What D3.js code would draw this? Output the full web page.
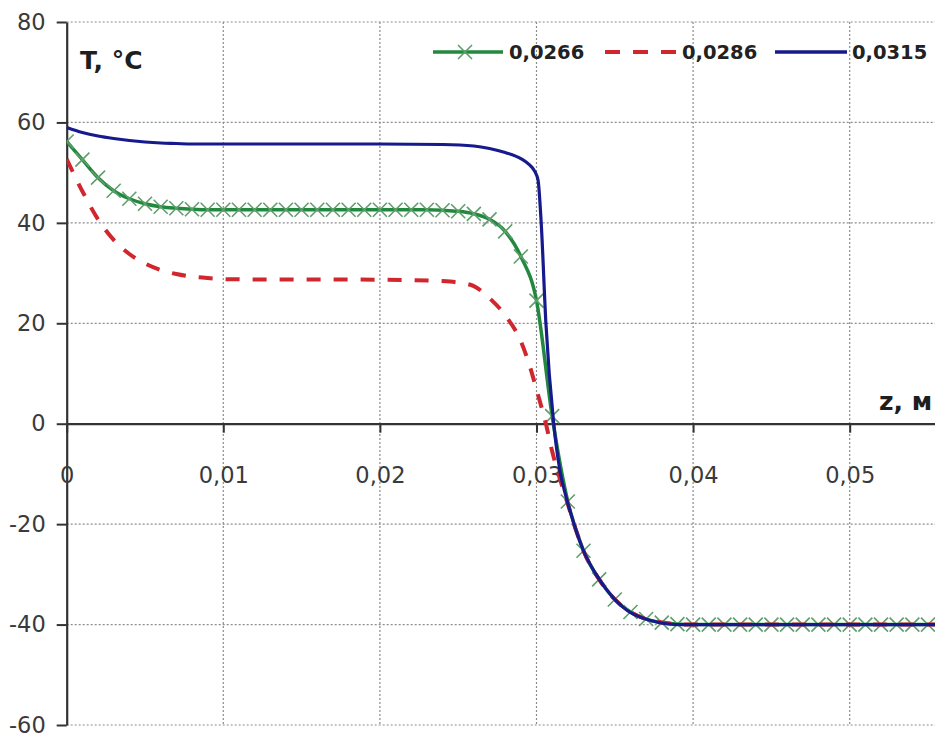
<!DOCTYPE html>
<html>
<head>
<meta charset="utf-8">
<script src="https://cdn.jsdelivr.net/npm/d3@7"></script>
<style>
  html, body { margin: 0; padding: 0; background: #fff; }
  svg { display: block; }
</style>
</head>
<body>
<script>
// ---------------- DATA ----------------
const seriesNames = ["0,0266", "0,0286", "0,0315"];

const greenZ = [0, 0.001, 0.002, 0.003, 0.004, 0.005, 0.006, 0.007, 0.008, 0.009,
  0.010, 0.011, 0.012, 0.013, 0.014, 0.015, 0.016, 0.017, 0.018, 0.019,
  0.020, 0.021, 0.022, 0.023, 0.024, 0.025, 0.026, 0.027, 0.028, 0.029,
  0.030, 0.031, 0.032, 0.033, 0.034, 0.035, 0.036, 0.037, 0.038, 0.039,
  0.040, 0.041, 0.042, 0.043, 0.044, 0.045, 0.046, 0.047, 0.048, 0.049,
  0.050, 0.051, 0.052, 0.053, 0.054, 0.055, 0.056, 0.057, 0.058, 0.059, 0.060];
const greenT = [56.2, 52.6, 49.0, 46.4, 44.8, 43.8, 43.2, 42.9, 42.7, 42.6,
  42.6, 42.6, 42.6, 42.6, 42.6, 42.6, 42.6, 42.6, 42.6, 42.6,
  42.6, 42.6, 42.6, 42.6, 42.5, 42.3, 41.8, 40.7, 38.3, 33.3,
  24.5, 1.5, -15.5, -25.3, -31.0, -35.0, -37.5, -38.9, -39.6, -39.9,
  -40, -40, -40, -40, -40, -40, -40, -40, -40, -40,
  -40, -40, -40, -40, -40, -40, -40, -40, -40, -40, -40];

const redZ = [0, 0.001, 0.002, 0.003, 0.004, 0.005, 0.006, 0.007, 0.008, 0.009,
  0.010, 0.014, 0.018, 0.022, 0.024, 0.025, 0.026, 0.027, 0.028, 0.029,
  0.0296, 0.030, 0.0303, 0.0306, 0.031, 0.0315, 0.032, 0.0325, 0.033, 0.034,
  0.035, 0.036, 0.037, 0.038, 0.039, 0.040, 0.060];
const redT = [52.7, 46.3, 40.7, 36.6, 33.8, 31.9, 30.6, 29.8, 29.3, 29.0,
  28.8, 28.7, 28.7, 28.6, 28.4, 28.1, 27.4, 25.0, 21.6, 16.4,
  11.2, 6.8, 3.5, 0, -5.5, -11, -16, -21, -25.3, -31,
  -35, -37.5, -38.9, -39.6, -39.9, -40, -40];

const blueZ = [0, 0.001, 0.002, 0.003, 0.004, 0.005, 0.006, 0.007, 0.008, 0.012,
  0.016, 0.020, 0.024, 0.026, 0.027, 0.028, 0.029, 0.0295, 0.0299, 0.0301,
  0.0303, 0.0306, 0.0311, 0.0315, 0.0319, 0.0324, 0.033, 0.0338, 0.0347, 0.0358,
  0.0373, 0.039, 0.060];
const blueT = [59.0, 58.0, 57.3, 56.8, 56.4, 56.1, 55.9, 55.8, 55.7, 55.7,
  55.7, 55.7, 55.6, 55.3, 54.8, 54.0, 52.8, 51.7, 50.2, 48.5,
  40.0, 20.0, 0, -9.4, -14.7, -20, -25.3, -30, -33.9, -37.2,
  -39.2, -40, -40];

const xTicks = [0, 0.01, 0.02, 0.03, 0.04, 0.05];
const yTicks = [-60, -40, -20, 0, 20, 40, 60, 80];
const yTitle = "T, °C";
const xTitle = "z, м";

// ---------------- LAYOUT ----------------
const W = 935, H = 737;
const x = d3.scaleLinear().domain([0, 0.06]).range([66.7, 1006.3]);
const y = d3.scaleLinear().domain([-60, 80]).range([725, 22]);

const svg = d3.select("body").append("svg")
  .attr("width", W).attr("height", H)
  .style("font-family", "'DejaVu Sans', sans-serif");
svg.append("rect").attr("width", W).attr("height", H).attr("fill", "#fff");

svg.append("defs").append("clipPath").attr("id", "plotclip")
  .append("rect").attr("x", x(0)).attr("y", 0).attr("width", W - x(0)).attr("height", y(-60) + 4);

// grid
const grid = svg.append("g").attr("stroke", "#8c8c8c").attr("stroke-width", 1.2)
  .attr("stroke-dasharray", "2,2");
grid.selectAll("line.h").data(yTicks.filter(d => d !== 0)).join("line")
  .attr("x1", x(0)).attr("x2", W).attr("y1", d => y(d)).attr("y2", d => y(d));
grid.selectAll("line.v").data(xTicks.filter(d => d !== 0)).join("line")
  .attr("x1", d => x(d)).attr("x2", d => x(d)).attr("y1", y(80)).attr("y2", y(-60));

// axes
const fmtX = d => d === 0 ? "0" : d.toFixed(2).replace(".", ",");
const yAxis = d3.axisLeft(y).tickValues(yTicks).tickFormat(d => String(d))
  .tickSize(10).tickSizeOuter(0).tickPadding(11);
const xAxis = d3.axisBottom(x).tickValues(xTicks).tickFormat(fmtX)
  .tickSize(9).tickSizeOuter(0).tickPadding(34);

const gy = svg.append("g").attr("transform", `translate(${x(0)},0)`).call(yAxis);
const gx = svg.append("g").attr("transform", `translate(0,${y(0)})`).call(xAxis);
[gx, gy].forEach(g => {
  g.select(".domain").attr("stroke", "#333").attr("stroke-width", 2.2);
  g.selectAll(".tick line").attr("stroke", "#333").attr("stroke-width", 2);
  g.selectAll(".tick text").attr("fill", "#3a3a3a")
    .style("font-family", "'DejaVu Sans', sans-serif").style("font-size", "22.5px");
});
gx.selectAll(".tick text").attr("dy", "0.71em");

// series
const line = d3.line().x(d => x(d[0])).y(d => y(d[1])).curve(d3.curveMonotoneX);
const plot = svg.append("g").attr("clip-path", "url(#plotclip)");

const greenData = greenZ.map((z, i) => [z, greenT[i]]);
const redData = redZ.map((z, i) => [z, redT[i]]);
const blueData = blueZ.map((z, i) => [z, blueT[i]]);

const GREEN = "#23883f", GREEN_MK = "#5e9f6b", RED = "#d0262e", BLUE = "#161a8c";
const mk = 7;
function xMarker(sel, cx, cy) {
  sel.append("path")
    .attr("d", `M${cx - mk},${cy - mk}L${cx + mk},${cy + mk}M${cx - mk},${cy + mk}L${cx + mk},${cy - mk}`)
    .attr("stroke", GREEN_MK).attr("stroke-width", 1.6).attr("fill", "none");
}

plot.append("path").datum(greenData).attr("d", line)
  .attr("fill", "none").attr("stroke", GREEN).attr("stroke-width", 3.5);
const mg = plot.append("g");
greenData.forEach(d => xMarker(mg, x(d[0]), y(d[1])));

plot.append("path").datum(redData).attr("d", line)
  .attr("fill", "none").attr("stroke", RED).attr("stroke-width", 4)
  .attr("stroke-dasharray", "14,13");

plot.append("path").datum(blueData).attr("d", line)
  .attr("fill", "none").attr("stroke", BLUE).attr("stroke-width", 3.2);

// titles
svg.append("text").attr("x", 80).attr("y", 69).text(yTitle)
  .attr("fill", "#1e1e1e").style("font-weight", "bold").style("font-size", "25px");
svg.append("text").attr("x", 879).attr("y", 410).text(xTitle)
  .attr("fill", "#1e1e1e").style("font-weight", "bold").style("font-size", "25px");

// legend
const legendItems = [
  { name: seriesNames[0], color: GREEN, dash: null, marker: true, x1: 433, x2: 503, tx: 509 },
  { name: seriesNames[1], color: RED, dash: "15,13", marker: false, x1: 605, x2: 678, tx: 682 },
  { name: seriesNames[2], color: BLUE, dash: null, marker: false, x1: 775, x2: 847, tx: 852 }
];
const ly = 52;
const lg = svg.append("g");
legendItems.forEach(it => {
  lg.append("line").attr("x1", it.x1).attr("x2", it.x2).attr("y1", ly).attr("y2", ly)
    .attr("stroke", it.color).attr("stroke-width", it.dash ? 4 : 3.5)
    .attr("stroke-dasharray", it.dash);
  if (it.marker) xMarker(lg, (it.x1 + it.x2) / 2 - 3, ly);
  lg.append("text").attr("x", it.tx).attr("y", ly + 7).text(it.name)
    .attr("fill", "#222").style("font-weight", "bold").style("font-size", "19.5px");
});
</script>
</body>
</html>
